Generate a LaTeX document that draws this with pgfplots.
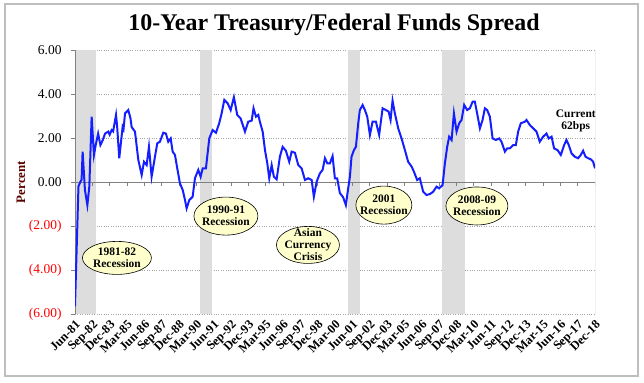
\documentclass[border=0pt]{standalone}
\usepackage{fontspec}
\setmainfont{Liberation Serif}
\usepackage{pgfplots}
\pgfplotsset{compat=1.18}
\usetikzlibrary{shapes.geometric}
\definecolor{lineblue}{RGB}{20,30,255}
\definecolor{recgray}{RGB}{221,221,221}
\definecolor{noteyellow}{RGB}{255,255,204}
\definecolor{framegray}{RGB}{190,190,190}
\definecolor{pctred}{RGB}{90,0,0}

\pgfplotstableread{
m v
0 -5.64
3 -0.2
5 0.05
5.7 0.1
6.6 1.38
8.6 -0.36
10.7 -1.05
12.4 -0.2
14.4 2.97
16.4 1.23
18 1.7
20 2.2
22 1.68
24 1.9
26 2.2
28.8 2.29
30 2.15
31.7 2.36
33 2.3
35.5 3.05
36.5 2.5
38.3 1.08
41.2 2.5
42 2.4
43.3 3.12
46.1 3.27
48 2.9
49 2.5
51.9 2.29
54.8 1.0
57.7 0.32
59.7 0.92
62 0.77
64 1.6
66.3 0.24
69.2 1.15
71.2 1.76
73.5 1.83
76.4 2.24
78.7 2.2
80.7 1.83
82.8 1.98
84.5 1.38
86.5 1.23
88.5 0.62
90.8 -0.06
93.2 -0.36
95.2 -0.82
96.6 -1.2
98.9 -0.82
101.8 -0.67
103.8 0.17
106.7 0.55
108.7 0.24
110.5 0.62
113.3 0.62
116.2 1.98
119.1 2.36
122 2.24
124.8 2.67
126.9 3.12
129.2 3.73
132.1 3.58
134.7 3.27
137.5 3.85
140.4 3.05
143.3 2.89
147.1 2.29
149.9 2.74
152.9 2.79
154.5 3.35
156.6 2.97
158.6 3.05
160 2.74
162.4 2.29
164.4 1.45
166.4 0.85
168.1 0.17
170.2 0.77
172.1 0.24
174.5 0.12
177.3 1.15
179.7 1.6
182.5 1.42
185.4 0.92
187.5 1.38
190.3 1.33
193.2 0.77
196.1 0.62
199 0.09
201.8 0.17
204.8 0.09
206.7 -0.67
209.1 0.01
211.9 0.39
214.3 0.55
216.3 1.08
218.3 0.85
220.6 0.85
222.9 1.18
224.9 0.17
226.9 0.17
229.2 -0.5
232.1 -0.7
234.4 -1.05
236.4 -0.29
237.9 0.24
239.3 1.15
241.4 1.45
243.1 1.6
245.1 2.67
246.5 3.27
248.9 3.5
250.9 3.27
252.9 2.97
255.2 2.14
257.5 2.74
260.4 2.74
263.2 2.14
266.2 3.35
269 3.27
271.4 3.2
273.1 2.82
274.8 3.7
276.8 3.12
279.7 2.44
282.6 1.98
285.5 1.45
288.3 0.92
291.3 0.70
293.3 0.47
296.1 0.09
298.4 0.17
301.3 -0.44
304.2 -0.59
307.1 -0.55
310 -0.44
312.9 -0.21
315.1 -0.29
318.1 -0.14
320.1 0.85
322.1 1.6
323.8 2.06
325.9 1.91
327.9 3.12
330.2 2.29
332.5 2.67
334.5 2.82
336.8 3.5
339.4 3.27
341.7 3.35
344.1 3.65
346 3.65
348 3.12
350.4 2.44
352.7 2.82
354.7 3.35
356.7 3.27
359 2.97
361.4 1.98
364.2 1.91
367.1 1.98
369.1 1.83
372 1.38
374 1.53
376.3 1.53
379.2 1.68
381.5 1.68
383.5 2.29
385.8 2.67
389.3 2.74
390.7 2.82
393.6 2.59
396.5 2.44
399.4 2.29
402.2 1.83
405.1 2.06
408 2.2
410 1.98
412.4 2.06
414.6 1.53
417.6 1.45
420.4 1.23
423.3 1.68
425.3 1.91
427.3 1.68
429.7 1.30
432.5 1.15
435.4 1.08
437.7 1.23
439.7 1.42
441.8 1.15
444.1 1.08
446.4 1.03
448.4 0.92
450 0.62
}\spread

\begin{document}
\begin{tikzpicture}
\useasboundingbox (0,0) rectangle (644bp,383bp);
\draw[framegray, line width=1.2bp] (5bp,7bp) rectangle (638bp,379bp);
\node[font=\fontsize{24}{28}\selectfont\bfseries] at (334bp,358bp) {10-Year Treasury/Federal Funds Spread};
\begin{axis}[
  at={(75bp,69bp)}, anchor=south west,
  scale only axis, width=520bp, height=264bp,
  xmin=0, xmax=450, ymin=-6, ymax=6,
  axis x line*=bottom, axis y line*=left,
  x axis line style={draw=none},
  y axis line style={draw=gray},
  xtick={0,15,...,450},
  xticklabels={Jun-81,Sep-82,Dec-83,Mar-85,Jun-86,Sep-87,Dec-88,Mar-90,Jun-91,Sep-92,Dec-93,Mar-95,Jun-96,Sep-97,Dec-98,Mar-00,Jun-01,Sep-02,Dec-03,Mar-05,Jun-06,Sep-07,Dec-08,Mar-10,Jun-11,Sep-12,Dec-13,Mar-15,Jun-16,Sep-17,Dec-18},
  xtick style={draw=none},
  xticklabel style={rotate=45, anchor=north east, font=\fontsize{12.5}{14}\selectfont\bfseries, inner sep=1bp},
  ytick={-6,-4,-2,0,2,4,6},
  yticklabels={\textcolor{red}{(6.00)},\textcolor{red}{(4.00)},\textcolor{red}{(2.00)},0.00,2.00,4.00,6.00},
  ytick style={gray},
  tick align=outside,
  major tick length=4bp,
  yticklabel style={font=\fontsize{13.5}{16}\selectfont, xshift=-6bp},
  ymajorgrids,
  grid style={gray!70, dotted},
  ylabel={Percent},
  ylabel style={font=\fontsize{13}{15}\selectfont\bfseries, text=pctred, at={(axis description cs:-0.104,0.5)}, anchor=center},
]
\addplot[fill=recgray, draw=none] coordinates {(0.9,-6) (18,-6) (18,6) (0.9,6)} -- cycle;
\addplot[fill=recgray, draw=none] coordinates {(108,-6) (118.3,-6) (118.3,6) (108,6)} -- cycle;
\addplot[fill=recgray, draw=none] coordinates {(236.2,-6) (246.5,-6) (246.5,6) (236.2,6)} -- cycle;
\addplot[fill=recgray, draw=none] coordinates {(317.5,-6) (337.4,-6) (337.4,6) (317.5,6)} -- cycle;
\draw[gray] (axis cs:0,0) -- (axis cs:450,0);
\draw[gray] (rel axis cs:1,0) -- (rel axis cs:1,1);
\pgfplotsinvokeforeach{15,30,45,60,75,90,105,120,135,150,165,180,195,210,225,240,255,270,285,300,315,330,345,360,375,390,405,420,435,450}{
  \draw[gray] (axis cs:#1,0) -- ([yshift=-4bp]axis cs:#1,0);
}
\addplot[lineblue, line width=2bp] table[x=m, y=v] {\spread};
% annotations
\tikzset{note/.style={ellipse, draw=black, fill=noteyellow, inner sep=0pt, line width=0.6bp},
         notetxt/.style={align=center, font=\fontsize{11.5}{12}\selectfont\bfseries, inner sep=0pt}}
\node[note, minimum width=69bp, minimum height=33bp] at (axis cs:36.3,-3.45) {};
\node[notetxt] at (axis cs:36.3,-3.45) {1981-82\\Recession};
\node[note, minimum width=64bp, minimum height=38bp] at (axis cs:130.6,-1.55) {};
\node[notetxt] at (axis cs:130.6,-1.55) {1990-91\\Recession};
\node[note, minimum width=63bp, minimum height=37bp] at (axis cs:201.6,-2.86) {};
\node[notetxt] at (axis cs:201.6,-2.86) {Asian\\Currency\\Crisis};
\node[note, minimum width=56bp, minimum height=38bp] at (axis cs:267.3,-1.05) {};
\node[notetxt] at (axis cs:267.3,-1.05) {2001\\Recession};
\node[note, minimum width=62bp, minimum height=38bp] at (axis cs:347.8,-1.09) {};
\node[notetxt] at (axis cs:347.8,-1.09) {2008-09\\Recession};
\node[notetxt] at (axis cs:433.4,2.77) {Current\\62bps};
\end{axis}
\end{tikzpicture}
\end{document}
